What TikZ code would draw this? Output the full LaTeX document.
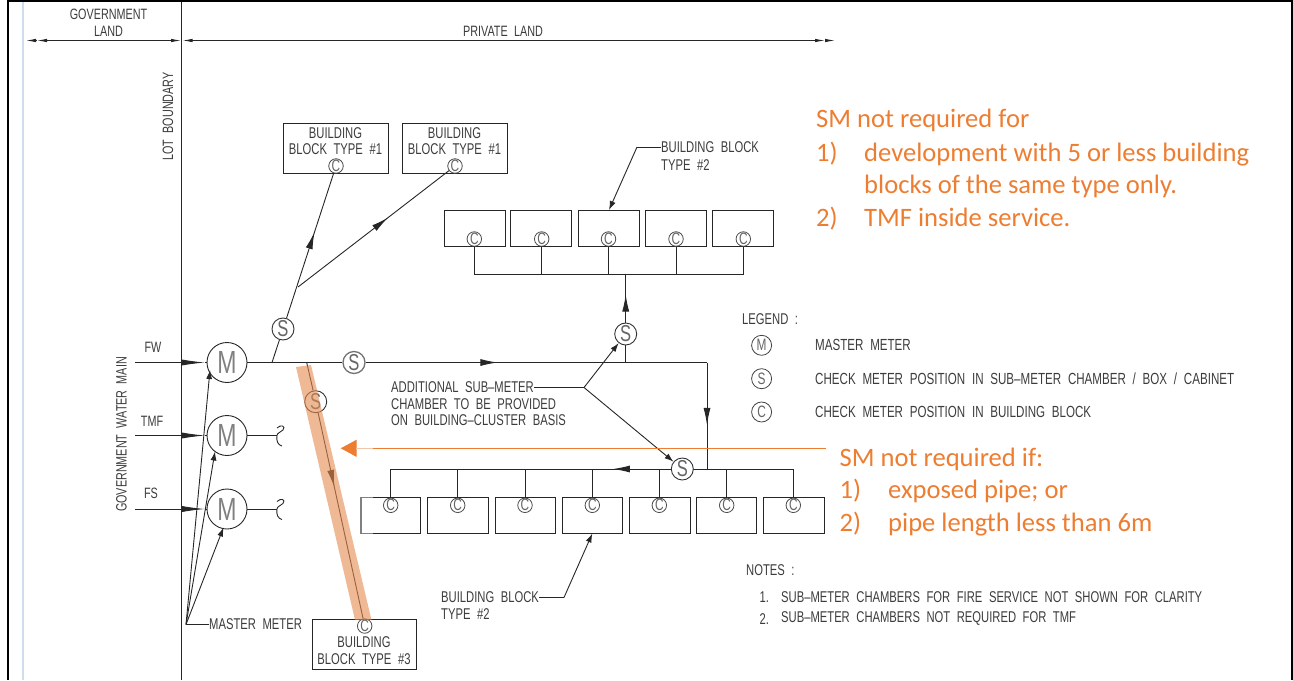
\documentclass[tikz,border=0pt]{standalone}
\usepackage{fontspec}
\usepackage{tikz}
\usetikzlibrary{arrows.meta,decorations.markings}
\newfontfamily\cadfont[FakeStretch=0.72,WordSpace=2.1]{Liberation Sans}
\newfontfamily\notefont{Carlito}
\definecolor{cadgray}{HTML}{3C3C3C}
\definecolor{noteorange}{HTML}{ED7D31}
\definecolor{bandorange}{HTML}{E58A4E}
\definecolor{marginblue}{HTML}{CFDCEE}
\tikzset{
  cadline/.style={draw=black!85, line width=0.9pt},
  cadtext/.style={inner sep=0pt, text=cadgray, font=\cadfont\fontsize{15}{16}\selectfont},
  cadtextsm/.style={inner sep=0pt, text=cadgray, font=\cadfont\fontsize{15.6}{16}\selectfont},
  lgtext/.style={inner sep=0pt, text=cadgray, font=\cadfont\fontsize{16.1}{16}\selectfont},
  blockbox/.style={draw=black!85, line width=0.9pt, minimum width=#1, minimum height=36pt, inner sep=0pt},
  mmeter/.style={circle, draw=black!85, line width=0.9pt, fill=white, minimum size=40pt, inner sep=0pt,
                 text=black!50, font=\cadfont\fontsize{32}{32}\selectfont},
  smeter/.style={circle, draw=black!80, line width=0.9pt, fill=white, minimum size=22pt, inner sep=0pt,
                 text=black!60, font=\cadfont\fontsize{23}{23}\selectfont},
  cmeter/.style={circle, draw=black!70, line width=0.8pt, minimum size=14.5pt, inner sep=0pt,
                 text=black!60, font=\cadfont\fontsize{16.5}{16.5}\selectfont},
  lgmeter/.style={circle, draw=black!75, line width=0.8pt, minimum size=20pt, inner sep=0pt,
                 text=black!60, font=\cadfont\fontsize{16.5}{16.5}\selectfont},
  ornote/.style={anchor=base west, inner sep=0pt, text=noteorange, font=\notefont\fontsize{26.6}{28}\selectfont},
  head/.style={-{Latex[length=#1, width=6pt]}},
  tiptail/.style={postaction={decorate}, decoration={markings,
                 mark=at position #1 with {\arrow{Latex[length=17pt, width=7pt]}}}},
  dimtip/.style={{Latex[length=10pt, width=3.5pt]}-{Latex[length=10pt, width=3.5pt]}},
}
\begin{document}
\begin{tikzpicture}[x=1pt, y=-1pt]
  \useasboundingbox (0,0) rectangle (1293,680);
  % page frame
  \draw[marginblue, line width=1.6pt] (23,0) -- (23,680);
  \draw[black, line width=2.2pt] (8,680) -- (8,1) -- (1292,1) -- (1292,680);
  % land strips
  \coordinate (lottop) at (181.5,2);
  \coordinate (lotbot) at (181.5,680);
  \draw[cadline] (lottop) -- (lotbot);
  \coordinate (govleft) at (26,40.5);
  \coordinate (govlefttwo) at (37,40.5);
  \coordinate (lotleft) at (181,40.5);
  \coordinate (lotright) at (182.5,40.5);
  \coordinate (privright) at (825,40.5);
  \coordinate (privrighttwo) at (835,40.5);
  \draw[cadline, dimtip] (govlefttwo) -- (lotleft);
  \draw[cadline, dimtip] (lotright) -- (privright);
  \draw[cadline, -{Latex[length=10pt, width=3.5pt]}] (govlefttwo) -- (govleft);
  \draw[cadline, -{Latex[length=10pt, width=3.5pt]}] (privright) -- (privrighttwo);
  \node[cadtext] (govtxt) at (108.5,14) {GOVERNMENT};
  \node[cadtext] (landtxt) at (108.5,31) {LAND};
  \node[cadtext] (privtxt) at (503,31) {PRIVATE LAND};
  \node[cadtext, rotate=90] (lottxt) at (168,116.5) {LOT BOUNDARY};
  \node[cadtext, rotate=90] (maintxt) at (121.5,434.5) {GOVERNMENT WATER MAIN};
  % inlets and master meters
  \node[cadtext] (fwtxt) at (153,347.5) {FW};
  \node[cadtext] (tmftxt) at (152,421) {TMF};
  \node[cadtext] (fstxt) at (151,493) {FS};
  \node[mmeter] (mfw) at (227,362.5) {M};
  \node[mmeter] (mtmf) at (227,435.5) {M};
  \node[mmeter] (mfs) at (227,509) {M};
  \coordinate (fwin) at (135,362.5);
  \coordinate (tmfin) at (135,435.5);
  \coordinate (fsin) at (135,509);
  \coordinate (fwhead) at (205,362.5);
  \coordinate (tmfhead) at (205,435.5);
  \coordinate (fshead) at (205,509);
  \draw[cadline, head=23pt] (fwin) -- (fwhead);
  \draw[cadline, head=23pt] (tmfin) -- (tmfhead);
  \draw[cadline, head=23pt] (fsin) -- (fshead);
  \draw[cadline] (fwhead) -- (mfw);
  \draw[cadline] (tmfhead) -- (mtmf);
  \draw[cadline] (fshead) -- (mfs);
  % cut ends
  \coordinate (tmfcut) at (277,435.5);
  \coordinate (fscut) at (277,509);
  \draw[cadline] (mtmf) -- (tmfcut);
  \draw[cadline] (mfs) -- (fscut);
  \draw[cadline] (277,428) .. controls (281,424) and (286,426) .. (283,430)
    .. controls (281,432) and (277,433) .. (tmfcut)
    .. controls (276,441) and (278,445) .. (282,446);
  \draw[cadline] (277,501.5) .. controls (281,497.5) and (286,499.5) .. (283,503.5)
    .. controls (281,505.5) and (277,506.5) .. (fscut)
    .. controls (276,514.5) and (278,518.5) .. (282,519.5);
  % master meter leader
  \node[cadtextsm, anchor=west] (mastertxt) at (209,624.5) {MASTER METER};
  \coordinate (masterpt) at (186,624.5);
  \coordinate (tipfw) at (210,370);
  \coordinate (tiptmf) at (215,451.5);
  \coordinate (tipfs) at (223.5,527.5);
  \draw[cadline] (mastertxt) -- (masterpt);
  \draw[cadline, head=9pt] (masterpt) -- (tipfw);
  \draw[cadline, head=9pt] (masterpt) -- (tiptmf);
  \draw[cadline, head=9pt] (masterpt) -- (tipfs);
  % type 1 blocks
  \node[blockbox=105pt, minimum height=50pt] (blocka) at (335.5,148) {};
  \node[blockbox=105pt, minimum height=50pt] (blockb) at (454.5,148) {};
  \node[cadtextsm] (blockatop) at (335.5,133) {BUILDING};
  \node[cadtextsm] (blockalow) at (335.5,149) {BLOCK TYPE \#1};
  \node[cadtextsm] (blockbtop) at (454.5,133) {BUILDING};
  \node[cadtextsm] (blockblow) at (454.5,149) {BLOCK TYPE \#1};
  \node[cmeter] (ca) at (336,166) {C};
  \node[cmeter] (cb) at (455,166) {C};
  \node[smeter] (sa) at (283,329) {S};
  \coordinate (sajoin) at (272,362.5);
  \coordinate (ajoin) at (298,287);
  \draw[cadline] (sajoin) -- (sa);
  \draw[cadline, tiptail=0.593] (sa) -- (ca);
  \draw[cadline, tiptail=0.596] (ajoin) -- (cb);
  % main line
  \node[smeter, draw=black!55, line width=1.3pt] (sb) at (354,362.5) {S};
  \coordinate (maincorner) at (707,362.5);
  \coordinate (maindrop) at (707,469);
  \coordinate (sctap) at (625.7,362.5);
  \draw[cadline] (mfw) -- (sb);
  \draw[cadline, tiptail=0.386] (sb) -- (maincorner);
  \draw[cadline, tiptail=0.586] (maincorner) -- (maindrop);
  % type 2 blocks, upper row
  \node[blockbox=61pt] (ua) at (474.6,228) {};
  \node[blockbox=61pt] (ub) at (541.3,228) {};
  \node[blockbox=61pt] (uc) at (608.8,228) {};
  \node[blockbox=61pt] (ud) at (676,228) {};
  \node[blockbox=61pt] (ue) at (743.2,228) {};
  \node[cmeter] (cua) at (474.3,239) {C};
  \node[cmeter] (cub) at (541.7,239) {C};
  \node[cmeter] (cuc) at (608.5,239) {C};
  \node[cmeter] (cud) at (676,239) {C};
  \node[cmeter] (cue) at (743.3,239) {C};
  \node[smeter] (sc) at (625.7,334) {S};
  \coordinate (ubusa) at (474.3,274.3);
  \coordinate (ubusb) at (541.7,274.3);
  \coordinate (ubusc) at (608.5,274.3);
  \coordinate (ubusd) at (676,274.3);
  \coordinate (ubuse) at (743.3,274.3);
  \coordinate (ubusin) at (625.7,274.3);
  \draw[cadline] (cua) -- (ubusa) -- (ubuse) -- (cue);
  \draw[cadline] (cub) -- (ubusb);
  \draw[cadline] (cuc) -- (ubusc);
  \draw[cadline] (cud) -- (ubusd);
  \draw[cadline] (sctap) -- (sc);
  \draw[cadline, tiptail=0.58] (sc) -- (ubusin);
  % type 2 leader, upper
  \node[cadtextsm, anchor=west] (utypea) at (661,147) {BUILDING BLOCK};
  \node[cadtextsm, anchor=west] (utypeb) at (661,165.5) {TYPE \#2};
  \coordinate (ubend) at (637,147);
  \coordinate (utip) at (609,210);
  \draw[cadline] (utypea) -- (ubend);
  \draw[cadline, head=9pt] (ubend) -- (utip);
  % type 2 blocks, lower row
  \node[blockbox=60pt] (la) at (390.7,515.5) {};
  \node[blockbox=61pt] (lb) at (458,515.5) {};
  \node[blockbox=60pt] (lc) at (525.2,515.5) {};
  \node[blockbox=60pt] (ld) at (592.5,515.5) {};
  \node[blockbox=61pt] (le) at (659.7,515.5) {};
  \node[blockbox=60pt] (lf) at (726.5,515.5) {};
  \node[blockbox=61pt] (lg) at (794,515.5) {};
  \draw[black!50, line width=1.5pt] (373,497.7) -- (361,497.7) -- (361,533.5) -- (373,533.5);
  \node[cmeter] (cla) at (390.7,505.3) {C};
  \node[cmeter] (clb) at (457.7,505.3) {C};
  \node[cmeter] (clc) at (525,505.3) {C};
  \node[cmeter] (cld) at (592.3,505.3) {C};
  \node[cmeter] (cle) at (659.3,505.3) {C};
  \node[cmeter] (clf) at (726.7,505.3) {C};
  \node[cmeter] (clg) at (793.3,505.3) {C};
  \coordinate (lbusa) at (390.7,469);
  \coordinate (lbusb) at (457.7,469);
  \coordinate (lbusc) at (525,469);
  \coordinate (lbusd) at (592.3,469);
  \coordinate (lbuse) at (659.3,469);
  \coordinate (lbusf) at (726.7,469);
  \coordinate (lbusg) at (793.3,469);
  \draw[cadline, tiptail=0.448] (lbusg) -- (lbusa);
  \draw[cadline] (lbusa) -- (cla);
  \draw[cadline] (lbusb) -- (clb);
  \draw[cadline] (lbusc) -- (clc);
  \draw[cadline] (lbusd) -- (cld);
  \draw[cadline] (lbuse) -- (cle);
  \draw[cadline] (lbusf) -- (clf);
  \draw[cadline] (lbusg) -- (clg);
  \node[smeter] (sd) at (682.3,469) {S};
  % type 2 leader, lower
  \node[cadtextsm, anchor=west] (ltypea) at (441,597.5) {BUILDING BLOCK};
  \node[cadtextsm, anchor=west] (ltypeb) at (441,614.5) {TYPE \#2};
  \coordinate (lbend) at (564,597.5);
  \coordinate (ltip) at (592.3,533.5);
  \draw[cadline] (ltypea) -- (lbend);
  \draw[cadline, head=9pt] (lbend) -- (ltip);
  % additional chamber leader
  \node[cadtextsm, anchor=west] (addtxta) at (391,387.5) {ADDITIONAL SUB–METER};
  \node[cadtextsm, anchor=west] (addtxtb) at (391,404) {CHAMBER TO BE PROVIDED};
  \node[cadtextsm, anchor=west] (addtxtc) at (391,420.5) {ON BUILDING–CLUSTER BASIS};
  \coordinate (addjoin) at (584,387.5);
  \draw[cadline] (addtxta) -- (addjoin);
  \draw[cadline, head=9pt] (addjoin) -- (sc);
  \draw[cadline, head=9pt] (addjoin) -- (sd);
  % type 3 block
  \node[blockbox=104.5pt, minimum height=50pt] (blockc) at (364.5,644) {};
  \node[cadtextsm] (blockctop) at (364,642.5) {BUILDING};
  \node[cadtextsm] (blockclow) at (364,659) {BLOCK TYPE \#3};
  \node[cmeter] (cc) at (364.7,626) {C};
  \node[smeter] (se) at (315.7,401.7) {S};
  \coordinate (setap) at (306.7,362.5);
  \draw[cadline] (setap) -- (se);
  \draw[cadline, tiptail=0.36] (se) -- (cc);
  % highlighted pipe
  \fill[bandorange, opacity=0.6] (296,367) -- (311,365) -- (371.5,620) -- (355,620) -- cycle;
  % legend
  \node[cadtextsm, anchor=west] (legendtxt) at (742,319) {LEGEND :};
  \node[lgmeter] (lgm) at (761.6,345.3) {M};
  \node[lgmeter] (lgs) at (761.6,378.7) {S};
  \node[lgmeter] (lgc) at (761.6,412) {C};
  \node[lgtext, anchor=west] (lgmtxt) at (815,345.3) {MASTER METER};
  \node[lgtext, anchor=west] (lgstxt) at (815,378.7) {CHECK METER POSITION IN SUB–METER CHAMBER / BOX / CABINET};
  \node[lgtext, anchor=west] (lgctxt) at (815,412) {CHECK METER POSITION IN BUILDING BLOCK};
  % notes
  \node[cadtextsm, anchor=west] (notestxt) at (746,570) {NOTES :};
  \node[cadtextsm, anchor=west] (noteanum) at (759.5,596.7) {1.};
  \node[cadtextsm, anchor=west] (notebnum) at (759.5,619) {2.};
  \node[cadtextsm, anchor=west] (noteatxt) at (781,596.7) {SUB–METER CHAMBERS FOR FIRE SERVICE NOT SHOWN FOR CLARITY};
  \node[cadtextsm, anchor=west] (notebtxt) at (781,619) {SUB–METER CHAMBERS NOT REQUIRED FOR TMF};
  % orange pointer
  \coordinate (ortail) at (826,448.3);
  \coordinate (ortip) at (340.7,448.3);
  \draw[noteorange, line width=1.1pt, -{Triangle[length=16pt, width=17pt]}] (ortail) -- (ortip);
  \coordinate (palea) at (373,448.3);
  \coordinate (paleb) at (356,448.3);
  \draw[bandorange!50, line width=1.6pt] (palea) -- (paleb);
  % orange notes
  \node[ornote] (ora) at (816,127.7) {SM not required for};
  \node[ornote] (orb) at (816,161) {1)};
  \node[ornote] (orc) at (864,161) {development with 5 or less building};
  \node[ornote] (ord) at (864,193.7) {blocks of the same type only.};
  \node[ornote] (ore) at (816,226) {2)};
  \node[ornote] (orf) at (864,226) {TMF inside service.};
  \node[ornote] (org) at (839.5,466) {SM not required if:};
  \node[ornote] (orh) at (839.5,498.7) {1)};
  \node[ornote] (ori) at (888,498.7) {exposed pipe; or};
  \node[ornote] (orj) at (839.5,531) {2)};
  \node[ornote] (ork) at (888,531) {pipe length less than 6m};
\end{tikzpicture}
\end{document}
